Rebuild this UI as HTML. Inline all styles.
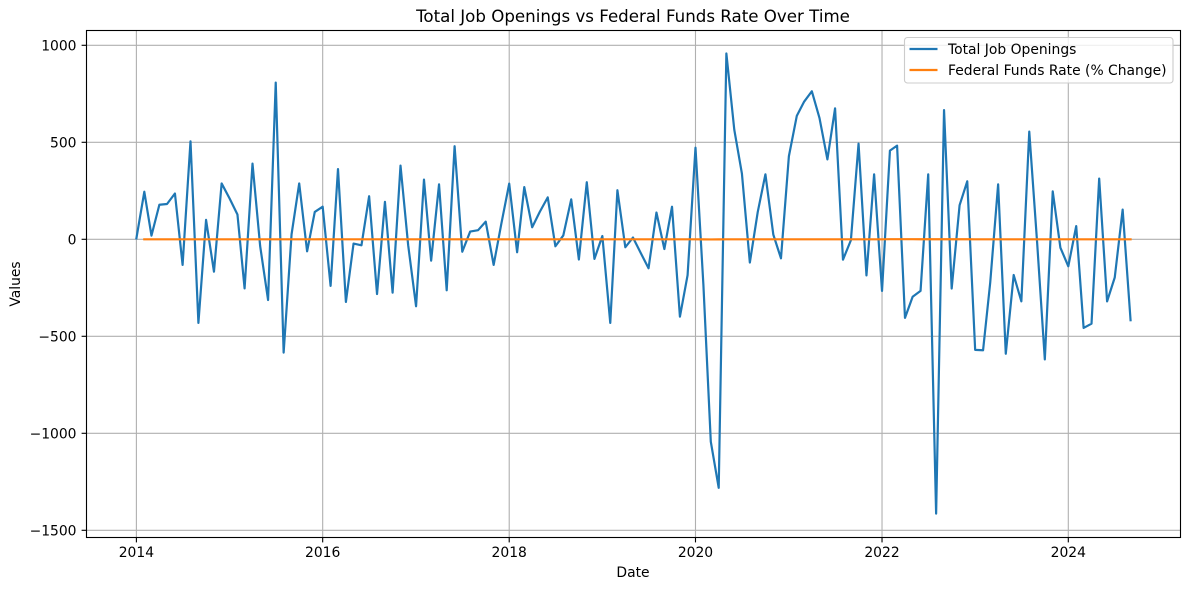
<!DOCTYPE html>
<html lang="en">
<head>
<meta charset="utf-8">
<title>Total Job Openings vs Federal Funds Rate Over Time</title>
<style>
html,body{margin:0;padding:0;background:#fff;}
#chart{display:block;width:1189px;height:590px;}
text{font-family:"DejaVu Sans","Liberation Sans",sans-serif;fill:#000;}
</style>
</head>
<body>
<svg id="chart" xmlns="http://www.w3.org/2000/svg" width="1189" height="590" viewBox="0 0 1189 590">
  <rect x="0" y="0" width="1189" height="590" fill="#fff"/>
  <g id="grid"></g>
  <g id="series"></g>
  <rect x="86.5" y="30.5" width="1094" height="507" fill="none" stroke="#000" stroke-width="1.11"/>
  <g id="ticks"></g>
  <text x="633" y="22" text-anchor="middle" font-size="16.67">Total Job Openings vs Federal Funds Rate Over Time</text>
  <text x="633" y="577" text-anchor="middle" font-size="13.89">Date</text>
  <text transform="translate(20,284) rotate(-90)" text-anchor="middle" font-size="13.89">Values</text>
  <g>
    <rect x="904.5" y="37.5" width="268.5" height="45.5" rx="3" ry="3" fill="#fff" fill-opacity="0.8" stroke="#ccc" stroke-width="1.11"/>
    <line x1="909.5" y1="49" x2="937.5" y2="49" stroke="#1f77b4" stroke-width="2.2"/>
    <text x="948" y="54" font-size="13.89">Total Job Openings</text>
    <line x1="909.5" y1="70" x2="937.5" y2="70" stroke="#ff7f0e" stroke-width="2.2"/>
    <text x="948" y="75" font-size="13.89">Federal Funds Rate (% Change)</text>
  </g>
</svg>
<script>
// Monthly series starting at 2014-01
const startYear = 2014;
const jobOpenings = [
  5,245,19,178,182,236,-132,505,-431,100,-167,288,
  211,128,-253,390,-35,-313,808,-584,25,288,-62,141,
  168,-240,362,-323,-22,-31,222,-282,193,-275,380,-30,
  -345,308,-110,283,-263,480,-64,40,47,91,-132,79,
  287,-67,269,62,142,216,-36,20,206,-104,294,-101,
  17,-431,253,-41,9,-72,-149,138,-50,168,-399,-185,
  472,-235,-1043,-1281,958,565,338,-120,141,335,24,-98,
  428,636,708,763,625,412,675,-105,-5,493,-186,335,
  -266,457,483,-405,-296,-266,335,-1414,666,-254,176,299,
  -570,-572,-223,283,-590,-184,-320,555,-20,-619,247,-43,
  -139,68,-457,-435,313,-320,-197,153,-417
];
// Percent change; starts one month later (first difference is undefined)
const fundsRateChange = [
  0.05,0.03,-0.02,0.01,0.02,0.03,0.00,0.01,-0.01,0.01,0.02,
  0.01,0.02,0.01,0.03,0.01,0.00,0.02,0.01,0.00,0.01,0.02,0.03,
  0.10,0.01,0.00,0.01,0.00,0.00,0.01,0.00,0.00,0.01,0.02,0.03,
  0.05,0.01,0.02,0.03,0.01,0.03,0.01,0.00,0.00,0.00,0.01,0.02,
  0.03,0.02,0.01,0.03,0.01,0.02,0.01,0.03,0.01,0.01,0.03,0.01,
  0.01,0.02,0.00,0.00,0.00,0.00,-0.03,-0.04,-0.05,-0.03,-0.04,-0.03,
  -0.01,-0.50,-0.80,-0.20,0.05,-0.10,-0.10,0.00,-0.10,0.00,-0.10,0.00,
  -0.03,-0.10,-0.10,0.00,0.00,0.05,0.00,0.00,0.00,0.00,0.00,0.00,
  0.00,0.50,0.60,0.50,0.50,0.30,0.40,0.20,0.20,0.15,0.10,0.10,
  0.05,0.05,0.03,0.04,0.02,0.02,0.02,0.00,0.00,0.00,0.00,0.00,
  0.00,0.00,0.00,0.00,0.00,0.00,0.00,0.00,-0.02
];
const xTickYears = [2014,2016,2018,2020,2022,2024];
const yTickValues = [-1500,-1000,-500,0,500,1000];

const NS = 'http://www.w3.org/2000/svg';
const daysOf = (y, m) => (Date.UTC(y, m, 1) - Date.UTC(startYear, 0, 1)) / 86400000;
const xDays = daysOf(2024, 0);
function xScale(days){ return 136.4 + days * (1068.3 - 136.4) / xDays; }
function yScale(v){ return 239.3 - v * 0.194; }
function monthX(i){ return xScale(daysOf(startYear + Math.floor(i / 12), i % 12)); }
function make(tag, parent, attrs){
  const el = document.createElementNS(NS, tag);
  for (const k in attrs) el.setAttribute(k, attrs[k]);
  parent.appendChild(el);
  return el;
}
const gridG = document.getElementById('grid');
const tickG = document.getElementById('ticks');
const seriesG = document.getElementById('series');

xTickYears.forEach(function(year){
  const x = xScale(daysOf(year, 0));
  const g = make('line', gridG, {x1:x, x2:x, y1:30.5, y2:537.5, stroke:'#b0b0b0', 'stroke-width':1.11});
  
  
  const t = make('line', tickG, {x1:x, x2:x, y1:537.5, y2:542.4, stroke:'#000', 'stroke-width':1.11});
  
  
  const l = make('text', tickG, {x:x, y:557, 'text-anchor':'middle', 'font-size':13.89});
  l.textContent = String(year);
  
  
});
yTickValues.forEach(function(v){
  const y = yScale(v);
  const g = make('line', gridG, {x1:86.5, x2:1180.5, y1:y, y2:y, stroke:'#b0b0b0', 'stroke-width':1.11});
  
  
  const t = make('line', tickG, {x1:81.6, x2:86.5, y1:y, y2:y, stroke:'#000', 'stroke-width':1.11});
  
  
  const l = make('text', tickG, {x:76.5, y:y + 5.2, 'text-anchor':'end', 'font-size':13.89});
  l.textContent = (v < 0 ? '\u2212' + Math.abs(v) : String(v));
  
  
});

const jobPts = jobOpenings.map(function(v, i){ return monthX(i).toFixed(2) + ',' + yScale(v).toFixed(2); }).join(' ');
const jobLine = make('polyline', seriesG, {points:jobPts, fill:'none', stroke:'#1f77b4', 'stroke-width':2.2, 'stroke-linejoin':'round', 'stroke-linecap':'square'});



const ratePts = fundsRateChange.map(function(v, i){ return monthX(i + 1).toFixed(2) + ',' + yScale(v).toFixed(2); }).join(' ');
const rateLine = make('polyline', seriesG, {points:ratePts, fill:'none', stroke:'#ff7f0e', 'stroke-width':2.2, 'stroke-linejoin':'round', 'stroke-linecap':'square'});


</script>
</body>
</html>
